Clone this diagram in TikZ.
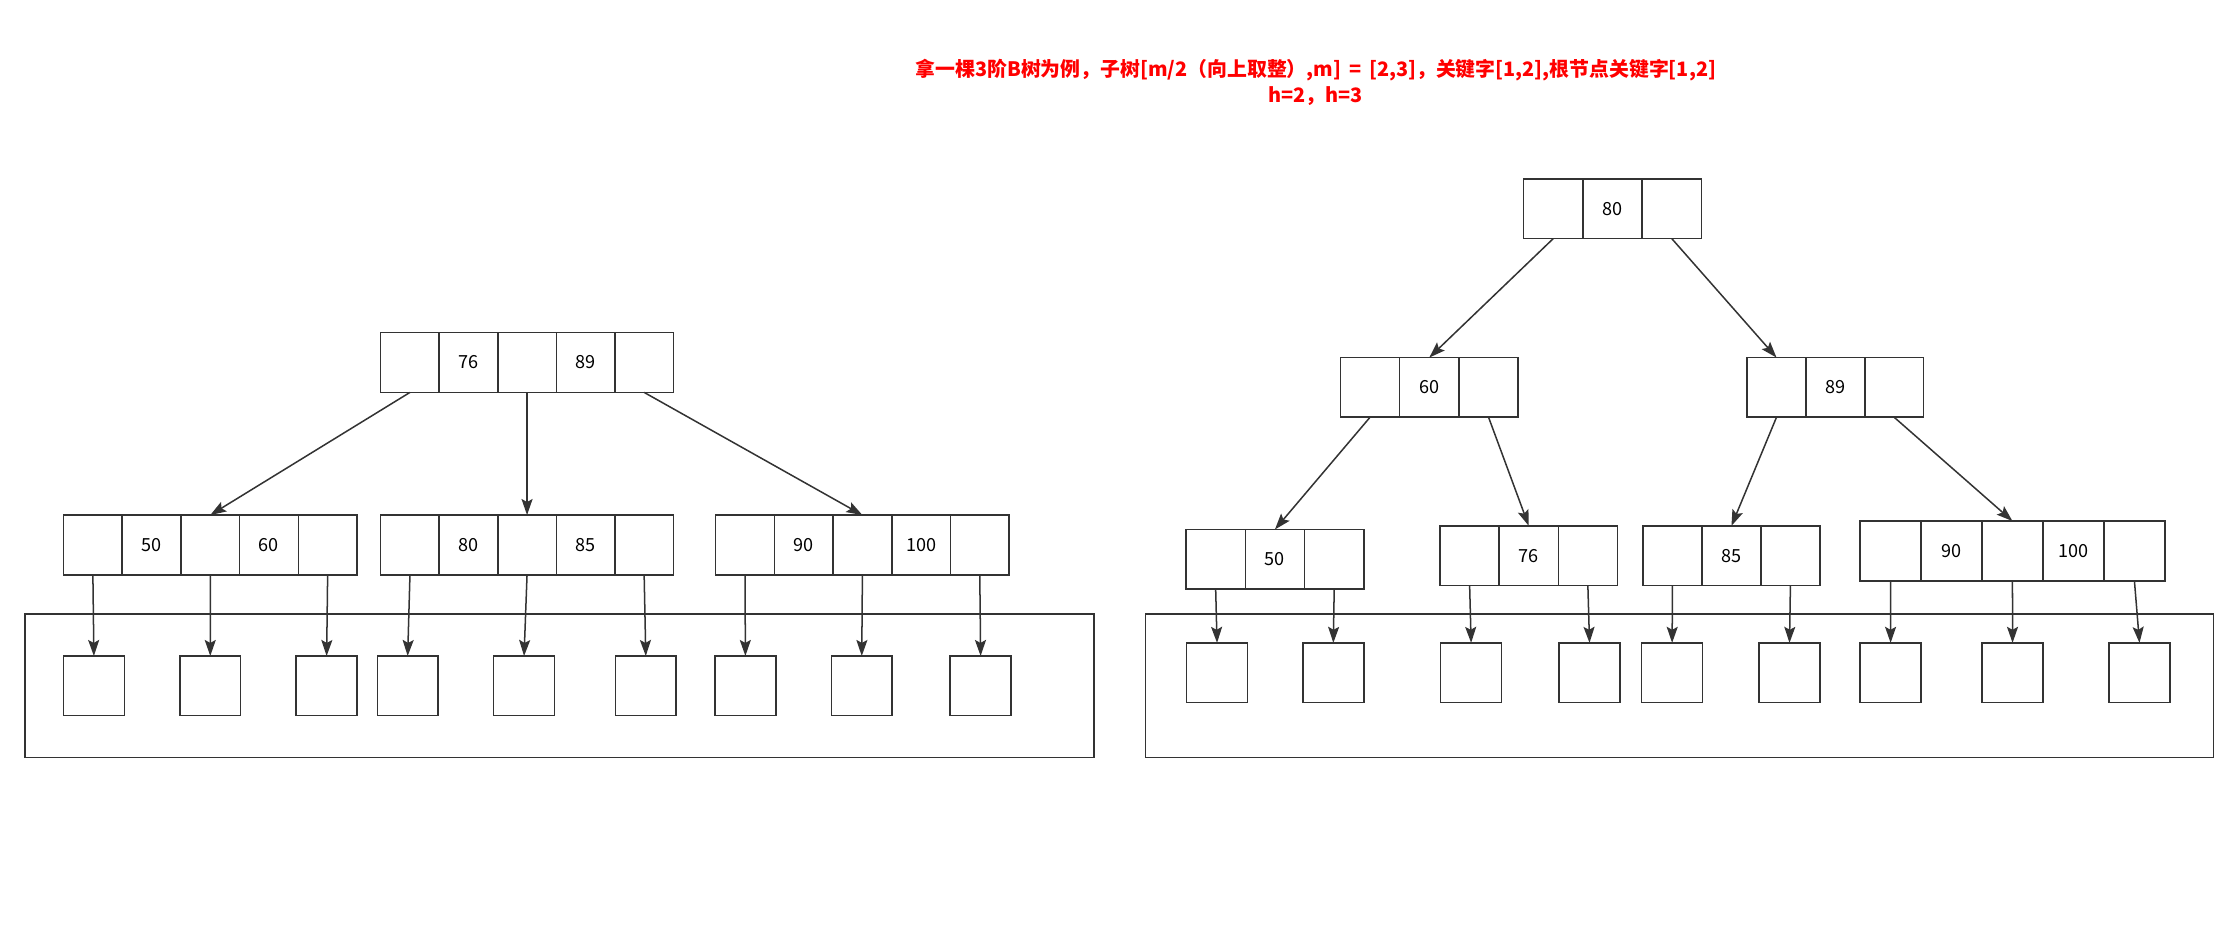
\documentclass[tikz,border=0pt]{standalone}
\usepackage{fontspec}
\newfontfamily\cjk{Noto Sans CJK SC}
\usetikzlibrary{arrows.meta}
\definecolor{ln}{HTML}{333333}
\tikzset{
 cell/.style={draw=ln, line width=1.5pt, inner sep=0pt, outer sep=0pt, minimum height=41.8*0.5mm, font=\cjk\fontsize{18}{20}\selectfont},
 leaf/.style={draw=ln, line width=1.5pt, inner sep=0pt, outer sep=0pt, minimum width=42.6*0.5mm, minimum height=41.8*0.5mm},
 frame/.style={draw=ln, line width=1.5pt, inner sep=0pt, outer sep=0pt},
 link/.style={draw=ln, line width=1.5pt, -{Stealth[length=16pt,width=11pt,inset=3pt]}},
 title/.style={text=red, font=\cjk\bfseries\fontsize{19.8}{25.5}\selectfont, align=center},
}
\newcommand\btrow[5]{%
  \foreach \lab [count=\i] in {#5}{
    \node[cell, minimum width=#4*0.5mm] (#1-\i) at ({#2+(\i-0.5)*#4},{#3+20.9}) {\lab};
  }}
\begin{document}
\begin{tikzpicture}[x=0.5mm,y=-0.5mm]
\useasboundingbox (0,0) rectangle (1568,650.6);
% title
\node[title] (ttl) at (921.5,57.5) {拿一棵3阶B树为例，子树[m/2（向上取整）,m] \,=\, [2,3]，关键字[1,2],根节点关键字[1,2]\\h=2，h=3};
% frames
\node[frame, minimum width=748.5*0.5mm, minimum height=100.6*0.5mm] (fl) at (391.75,480.3) {};
\node[frame, minimum width=747.7*0.5mm, minimum height=100.6*0.5mm] (fr) at (1176.15,480.3) {};
% left tree
\btrow{A}{266.6}{233}{41}{{},76,{},89,{}}
\btrow{B}{44.5}{360.7}{41.1}{{},50,{},60,{}}
\btrow{C}{266.6}{360.7}{41}{{},80,{},85,{}}
\btrow{D}{501.2}{360.7}{41.1}{{},90,{},100,{}}
% right tree
\btrow{R}{1067}{125.3}{41.5}{{},80,{}}
\btrow{S}{938.7}{250.4}{41.5}{{},60,{}}
\btrow{T}{1223.5}{250.4}{41.2}{{},89,{}}
\btrow{U}{830.6}{370.8}{41.5}{{},50,{}}
\btrow{V}{1008.5}{368.3}{41.4}{{},76,{}}
\btrow{W}{1150.6}{368.3}{41.3}{{},85,{}}
\btrow{X}{1302.6}{364.9}{42.7}{{},90,{},100,{}}
% left leaves
\node[leaf] (la1) at (65.75,480.3) {};
\node[leaf] (la2) at (147.25,480.3) {};
\node[leaf] (la3) at (228.75,480.3) {};
\node[leaf] (la4) at (285.5,480.3) {};
\node[leaf] (la5) at (367,480.3) {};
\node[leaf] (la6) at (452.25,480.3) {};
\node[leaf] (la7) at (522,480.3) {};
\node[leaf] (la8) at (603.5,480.3) {};
\node[leaf] (la9) at (686.75,480.3) {};
% right leaves
\node[leaf] (ra1) at (852.3,471.1) {};
\node[leaf] (ra2) at (933.75,471.1) {};
\node[leaf] (ra3) at (1030.25,471.1) {};
\node[leaf] (ra4) at (1113.15,471.1) {};
\node[leaf] (ra5) at (1171,471.1) {};
\node[leaf] (ra6) at (1253.2,471.1) {};
\node[leaf] (ra7) at (1324,471.1) {};
\node[leaf] (ra8) at (1409.4,471.1) {};
\node[leaf] (ra9) at (1498.3,471.1) {};
% left links
\draw[link] (A-1.south) -- (B-3.north);
\draw[link] (A-3.south) -- (C-3.north);
\draw[link] (A-5.south) -- (D-3.north);
\draw[link] (B-1.south) -- (la1.north);
\draw[link] (B-3.south) -- (la2.north);
\draw[link] (B-5.south) -- (la3.north);
\draw[link] (C-1.south) -- (la4.north);
\draw[link] (C-3.south) -- (la5.north);
\draw[link] (C-5.south) -- (la6.north);
\draw[link] (D-1.south) -- (la7.north);
\draw[link] (D-3.south) -- (la8.north);
\draw[link] (D-5.south) -- (la9.north);
% right links
\draw[link] (R-1.south) -- (S-2.north);
\draw[link] (R-3.south) -- (T-1.north);
\draw[link] (S-1.south) -- (U-2.north);
\draw[link] (S-3.south) -- (V-2.north);
\draw[link] (T-1.south) -- (W-2.north);
\draw[link] (T-3.south) -- (X-3.north);
\draw[link] (U-1.south) -- (ra1.north);
\draw[link] (U-3.south) -- (ra2.north);
\draw[link] (V-1.south) -- (ra3.north);
\draw[link] (V-3.south) -- (ra4.north);
\draw[link] (W-1.south) -- (ra5.north);
\draw[link] (W-3.south) -- (ra6.north);
\draw[link] (X-1.south) -- (ra7.north);
\draw[link] (X-3.south) -- (ra8.north);
\draw[link] (X-5.south) -- (ra9.north);
\end{tikzpicture}
\end{document}
